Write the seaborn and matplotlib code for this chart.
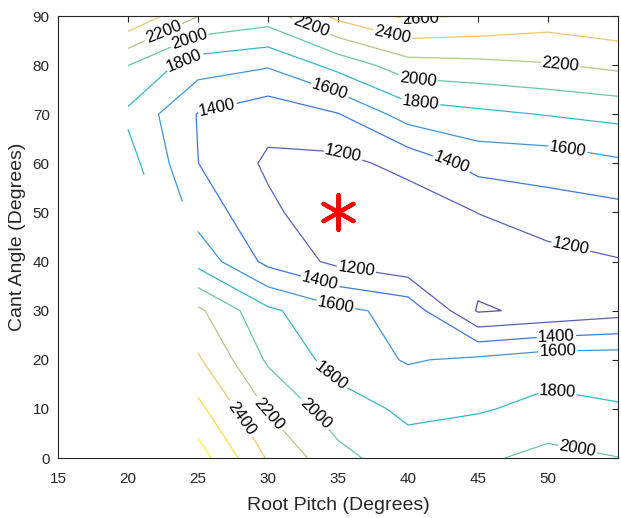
import numpy as np
import matplotlib
matplotlib.use("Agg")
import matplotlib.pyplot as plt
from matplotlib.colors import LinearSegmentedColormap
import seaborn as sns

# ---------------- data ----------------
pitch = [20, 25, 30, 35, 40, 45, 50, 55]            # Root Pitch (deg)
cant = [0, 10, 20, 30, 40, 50, 60, 70, 80, 90]      # Cant Angle (deg)
nan = np.nan
# value columns (one per pitch), listed from cant 0 to 90
z_p20 = [nan, nan, nan, nan, nan, nan, 1884, 1762, 2005, 2580]
z_p25 = [2897, 2655, 2426, 2241, 1729, 1518, 1402, 1390, 1690, 2205]
z_p30 = [2380, 2182, 1970, 1840, 1346, 1245, 1166, 1270, 1621, 2105]
z_p35 = [2062, 1890, 1720, 1645, 1150, 1050, 1143, 1390, 1870, 2455]
z_p40 = [1880, 1761, 1582, 1540, 1040, 1083, 1260, 1690, 2116, 2640]
z_p45 = [1960, 1782, 1640, 980, 1080, 1203, 1473, 1755, 2145, 2580]
z_p50 = [2064, 1851, 1720, 1040, 1122, 1312, 1485, 1810, 2184, 2506]
z_p55 = [2004, 1813, 1722, 1115, 1188, 1339, 1565, 1858, 2247, 2559]
levels = [1000, 1200, 1400, 1600, 1800, 2000, 2200, 2400, 2600, 2800]
optimum_pitch = [35]
optimum_cant = [50]

# ---------------- style ----------------
sns.set_theme(style="white")
plt.rcParams['font.family'] = ['Liberation Sans', 'DejaVu Sans']
axcol = (0.15, 0.15, 0.15)

parula = LinearSegmentedColormap.from_list('parula', [
    [0.2081, 0.1663, 0.5292], [0.2123, 0.2138, 0.6270], [0.1959, 0.2645, 0.7279],
    [0.1253, 0.3242, 0.8303], [0.0117, 0.3875, 0.8820], [0.0165, 0.4266, 0.8786],
    [0.0498, 0.4586, 0.8641], [0.0723, 0.4887, 0.8467], [0.0793, 0.5200, 0.8312],
    [0.0641, 0.5570, 0.8240], [0.0343, 0.5966, 0.8199], [0.0239, 0.6287, 0.8038],
    [0.0228, 0.6535, 0.7768], [0.0384, 0.6743, 0.7436], [0.0843, 0.6928, 0.7062],
    [0.1453, 0.7098, 0.6646], [0.2178, 0.7250, 0.6193], [0.3022, 0.7376, 0.5712],
    [0.3953, 0.7459, 0.5244], [0.4871, 0.7491, 0.4840], [0.5709, 0.7485, 0.4494],
    [0.6473, 0.7456, 0.4188], [0.7184, 0.7411, 0.3905], [0.7858, 0.7356, 0.3633],
    [0.8507, 0.7299, 0.3360], [0.9139, 0.7258, 0.3063], [0.9739, 0.7314, 0.2666],
    [0.9990, 0.7653, 0.2164], [0.9880, 0.8066, 0.1794], [0.9697, 0.8481, 0.1475],
    [0.9589, 0.8949, 0.1132], [0.9661, 0.9514, 0.0755], [0.9763, 0.9831, 0.0538]])
level_pos = [0.0, 0.05, 0.11, 0.23, 0.39, 0.52, 0.65, 0.80, 0.90, 1.0]
level_colors = [tuple(0.82 * np.array(parula(t)[:3]) + 0.18) for t in level_pos]

Z = np.column_stack([z_p20, z_p25, z_p30, z_p35, z_p40, z_p45, z_p50, z_p55])

fig = plt.figure(figsize=(6.21, 5.18), dpi=100)
ax = fig.add_axes([58 / 621, 1 - 458 / 518, 560 / 621, 442 / 518])

cs = ax.contour(pitch, cant, Z, levels=levels, colors=level_colors, linewidths=0.9)

label_pos = [
    (35.4, 62.2), (36.3, 38.2), (51.6, 42.7),
    (26.4, 71.0), (43.1, 59.8), (33.7, 35.5), (50.6, 24.7),
    (34.4, 74.7), (51.4, 62.2), (34.8, 30.6), (50.7, 21.8),
    (40.9, 72.2), (24.1, 80.4), (34.4, 16.3), (50.7, 14.5),
    (24.4, 85.1), (40.7, 76.9), (33.1, 8.2), (52.1, 1.8),
    (22.6, 86.1), (33.1, 88.0), (50.9, 80.2), (30.0, 8.8),
    (38.9, 86.3), (28.0, 7.8), (40.9, 89.5),
]
ax.clabel(cs, manual=label_pos, inline=True, fmt='%d',
          fontsize=12, colors='black', inline_spacing=4)

sns.scatterplot(x=optimum_pitch, y=optimum_cant, marker=(6, 2, 0), s=620,
                color='red', edgecolor='red', linewidth=3.0, ax=ax,
                legend=False, zorder=5)

ax.set_xlim(15, 55)
ax.set_ylim(0, 90)
ax.set_xticks([15, 20, 25, 30, 35, 40, 45, 50])
ax.set_yticks(list(range(0, 91, 10)))
ax.tick_params(direction='in', top=True, right=True, length=4, width=0.8,
               colors=axcol, labelsize=11)
ax.tick_params(axis='x', pad=10)
ax.tick_params(axis='y', pad=6)
for s in ax.spines.values():
    s.set_color(axcol)
    s.set_linewidth(0.8)
    s.set_visible(True)
ax.set_xlabel('Root Pitch (Degrees)', fontsize=14, color=axcol, labelpad=8)
ax.set_ylabel('Cant Angle (Degrees)', fontsize=14, color=axcol, labelpad=5)

fig.savefig('out.png', dpi=100)
